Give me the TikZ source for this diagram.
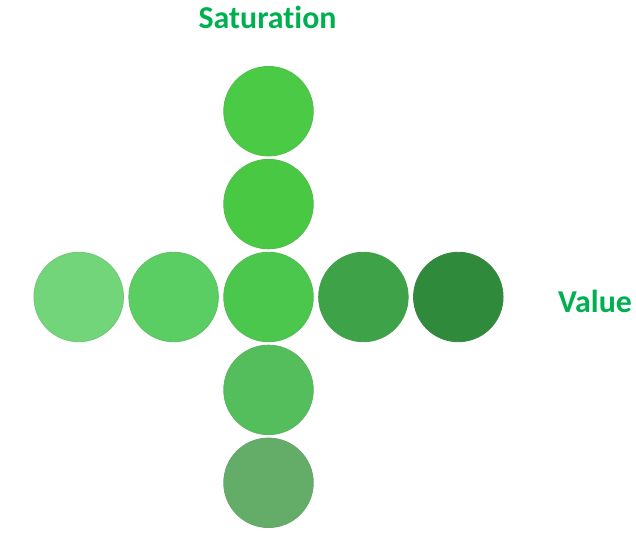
\documentclass[tikz,border=0pt]{standalone}
\usepackage{fontspec}
\setmainfont[Ligatures=NoCommon]{Carlito}
\usepackage{xcolor}
\usetikzlibrary{positioning}

\definecolor{labelgreen}{HTML}{00B050}
\definecolor{satA}{HTML}{4BCA45}
\definecolor{satB}{HTML}{49C943}
\definecolor{hueC}{HTML}{4CC74E}
\definecolor{satD}{HTML}{54BE5C}
\definecolor{satE}{HTML}{63AD69}
\definecolor{valA}{HTML}{72D57A}
\definecolor{valB}{HTML}{5ACD63}
\definecolor{valD}{HTML}{3EA348}
\definecolor{valE}{HTML}{2F8A3B}

\begin{document}
\begin{tikzpicture}[
    x=1bp, y=-1bp,
    node distance=2.5bp and 4.5bp,
    dot/.style={circle, minimum size=89.5bp, inner sep=0pt, draw=#1!85!gray, line width=0.9pt, fill=#1},
    axis/.style={font=\fontsize{32}{36}\selectfont\bfseries, text=labelgreen, inner sep=0pt, anchor=base}
]
\useasboundingbox (0,0) rectangle (636,539);

% Middle circle
\node[dot=hueC] (mid) at (268.5,297) {};

% Saturation column
\node[dot=satB, above=of mid] (up1) {};
\node[dot=satA, above=of up1] (up2) {};
\node[dot=satD, below=of mid] (down1) {};
\node[dot=satE, below=of down1] (down2) {};

% Value row
\node[dot=valB, left=of mid] (left1) {};
\node[dot=valA, left=of left1] (left2) {};
\node[dot=valD, right=of mid] (right1) {};
\node[dot=valE, right=of right1] (right2) {};

% Labels
\node[axis] (sat) at (267.5,29) {Saturation};
\node[axis] (val) at (595,312) {Value};

\end{tikzpicture}
\end{document}
